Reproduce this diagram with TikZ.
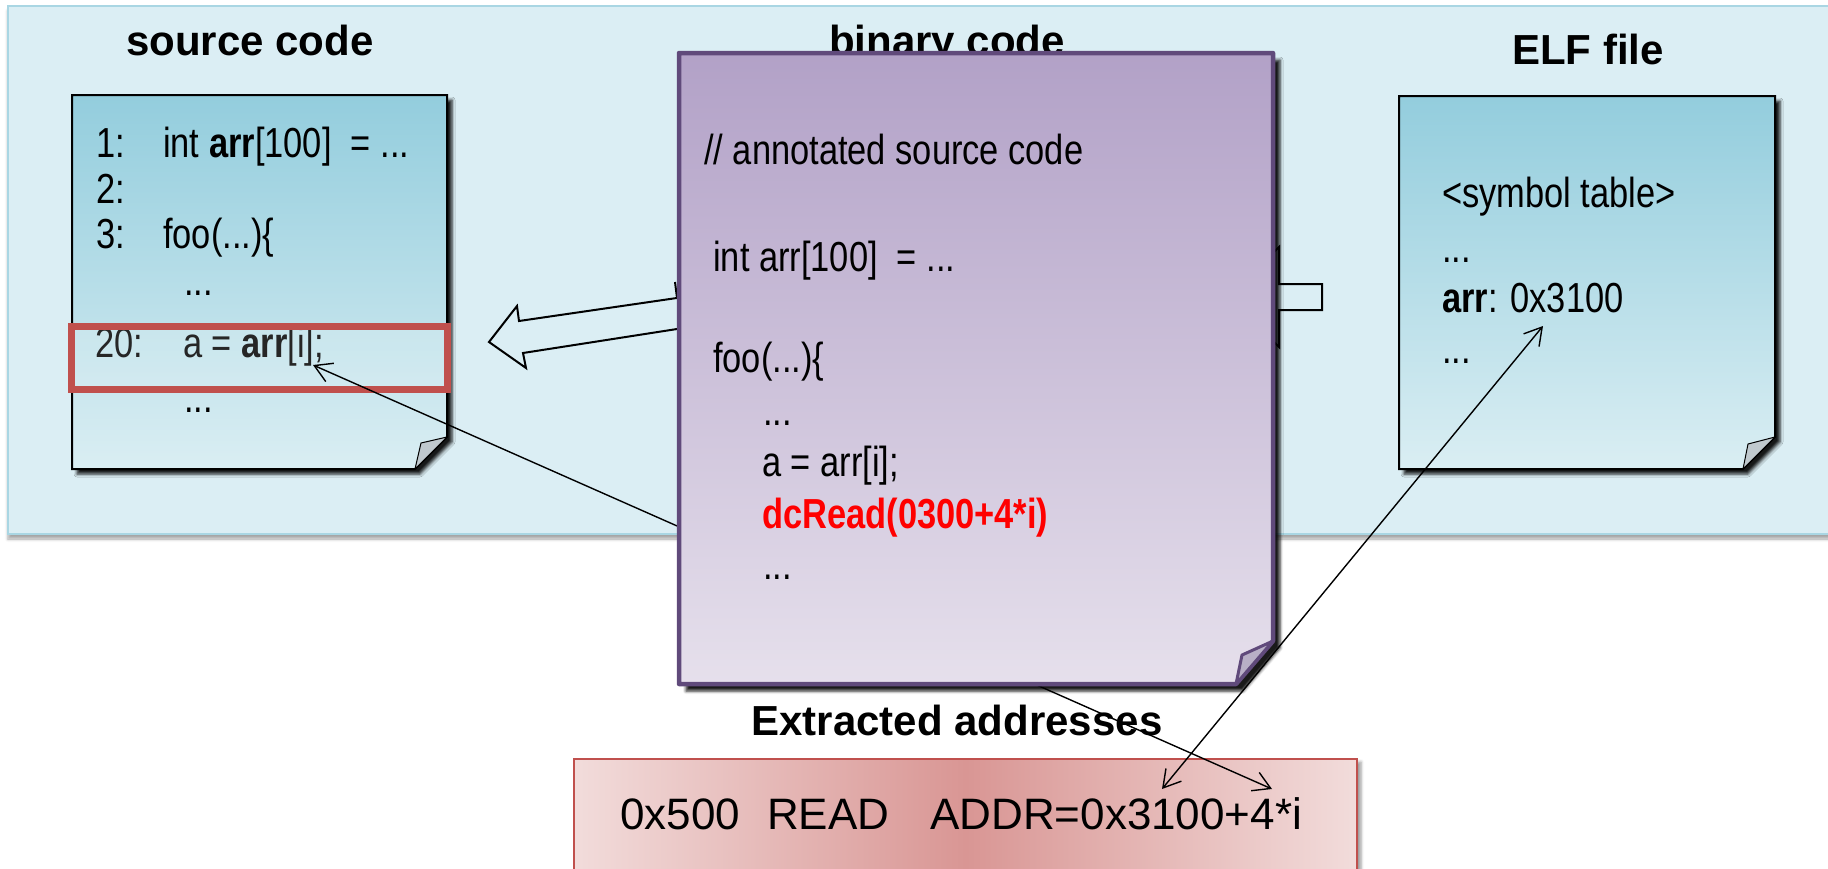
\documentclass[tikz,border=0pt]{standalone}
\usepackage{fontspec}
\setmainfont{Liberation Sans}
\newfontfamily\narrowfont[FakeStretch=0.82]{Liberation Sans}
\usetikzlibrary{arrows.meta,shadows.blur}

\definecolor{panelfill}{HTML}{DBEEF4}
\definecolor{panelline}{HTML}{A9D6E3}
\definecolor{boxtop}{HTML}{93CDDD}
\definecolor{boxbot}{HTML}{DAEEF3}
\definecolor{foldgray}{HTML}{C0C9CE}
\definecolor{purpleline}{HTML}{604A7B}
\definecolor{purpletop}{HTML}{B2A1C7}
\definecolor{purplebot}{HTML}{E6E0EC}
\definecolor{purplefold}{HTML}{B8AFC6}
\definecolor{hired}{HTML}{C0504D}
\definecolor{pinkedge}{HTML}{F2DCDB}
\definecolor{pinkmid}{HTML}{D99694}

\begin{document}
\begin{tikzpicture}[x=1pt,y=-1pt,
  code/.style={anchor=base west, inner sep=0pt, font=\narrowfont\fontsize{42}{50}\selectfont},
  heading/.style={anchor=base, inner sep=0pt, font=\bfseries\fontsize{42}{50}\selectfont},
  addr/.style={anchor=base west, inner sep=0pt, font=\fontsize{44}{52}\selectfont},
  paper/.style={draw=black, line width=2pt, top color=boxtop, bottom color=boxbot,
    blur shadow={shadow xshift=5pt, shadow yshift=-5pt, shadow blur radius=3pt, shadow opacity=90}},
  fold/.style={draw=black, line width=1pt, fill=foldgray, line join=round},
  blockarrow/.style={draw=black, line width=2pt, line join=miter},
  link/.style={line width=1.4pt, {Straight Barb[length=17pt,width=20pt]}-{Straight Barb[length=17pt,width=20pt]}}
]
\useasboundingbox (0,0) rectangle (1828,868);
\clip (0,0) rectangle (1828,868);

% background panel
\path[fill=panelfill, draw=panelline, line width=1.5pt,
  blur shadow={shadow xshift=0pt, shadow yshift=-5pt, shadow blur radius=3pt, shadow opacity=35}]
  (8,6) rectangle (1850,534);

% column headings
\node[heading] (srcTitle) at (250,55) {source code};
\node[heading] (binTitle) at (947,55) {binary code};
\node[heading] (elfTitle) at (1588,64) {ELF file};

% source code page
\path[paper] (72,95) -- (447,95) -- (447,437) -- (415,469) -- (72,469) -- cycle;
\path[fold] (415,469) -- (421,443) -- (447,437) -- cycle;
\node[code] (s1n) at (96,157) {1:};
\node[code] (s1) at (163,157) {int \textbf{arr}[100]~~= ...};
\node[code] (s2n) at (96,203) {2:};
\node[code] (s3n) at (96,248) {3:};
\node[code] (s3) at (163,248) {foo(...)\{};
\node[code] (s4) at (184,295) {...};
\node[code] (s20n) at (95,357) {20:};
\node[code] (s20) at (183,357) {a = \textbf{arr}[i];};
\node[code] (s21) at (184,412) {...};
\draw[hired, line width=7pt, fill=white, fill opacity=0.15] (71.7,326) rectangle (447.7,389);

% ELF file page
\path[paper] (1399,96) -- (1775,96) -- (1775,437) -- (1743,469) -- (1399,469) -- cycle;
\path[fold] (1743,469) -- (1748,444) -- (1775,437) -- cycle;
\node[code] (e1) at (1442,207) {<symbol table>};
\node[code] (e2) at (1442,262) {...};
\node[code] (e3) at (1442,312) {\textbf{arr}: 0x3100};
\node[code] (e4) at (1442,363) {...};

% extracted addresses
\node[heading] (extTitle) at (957,735) {Extracted addresses};
\path[draw=hired, line width=1.5pt, left color=pinkedge, right color=pinkedge, middle color=pinkmid,
  blur shadow={shadow xshift=4pt, shadow yshift=-3pt, shadow blur radius=3pt, shadow opacity=40}]
  (574,759) rectangle (1357,900);
\node[addr] (a1) at (620,829) {0x500};
\node[addr] (a2) at (767,829) {READ};
\node[addr] (a3) at (930,829) {ADDR=0x3100+4*i};

% block arrows behind the binary code page
\path[blockarrow] (720,291.7) -- (519,321) -- (517,306) -- (489,342) -- (526,368) -- (523,353) -- (720,322.3) -- cycle;
\draw[blockarrow] (677,298) -- (675,282);
\path[blockarrow] (1322,284) -- (1279,284) -- (1279,247) -- (1229,297) -- (1279,347) -- (1279,310) -- (1322,310) -- cycle;

% link from the array access to the address offset
\coordinate (useSite) at (313,365);
\coordinate (addrOffset) at (1272,789);
\draw[link] (useSite) -- (addrOffset);

% binary code page
\path[draw=purpleline, line width=4.5pt, line join=round, top color=purpletop, bottom color=purplebot,
  blur shadow={shadow xshift=7pt, shadow yshift=-7pt, shadow blur radius=3pt, shadow opacity=90}]
  (679,53) -- (1273,53) -- (1273,641) -- (1236,684) -- (679,684) -- cycle;
\path[draw=purpleline, line width=3pt, line join=round, fill=purplefold] (1236,684) -- (1242,655) -- (1273,641) -- cycle;
\node[code] (b0) at (704,164) {// annotated source code};
\node[code] (b1) at (713,271) {int arr[100]~~= ...};
\node[code] (b2) at (713,372) {foo(...)\{};
\node[code] (b3) at (763,425) {...};
\node[code] (b4) at (762,476) {a = arr[i];};
\node[code, text=red] (b5) at (762,528) {\textbf{dcRead(0300+4*i)}};
\node[code] (b6) at (763,579) {...};

% link from the symbol table entry to the base address
\coordinate (symAddr) at (1543,326);
\coordinate (addrBase) at (1162,789);
\draw[link] (symAddr) -- (addrBase);
\end{tikzpicture}
\end{document}
